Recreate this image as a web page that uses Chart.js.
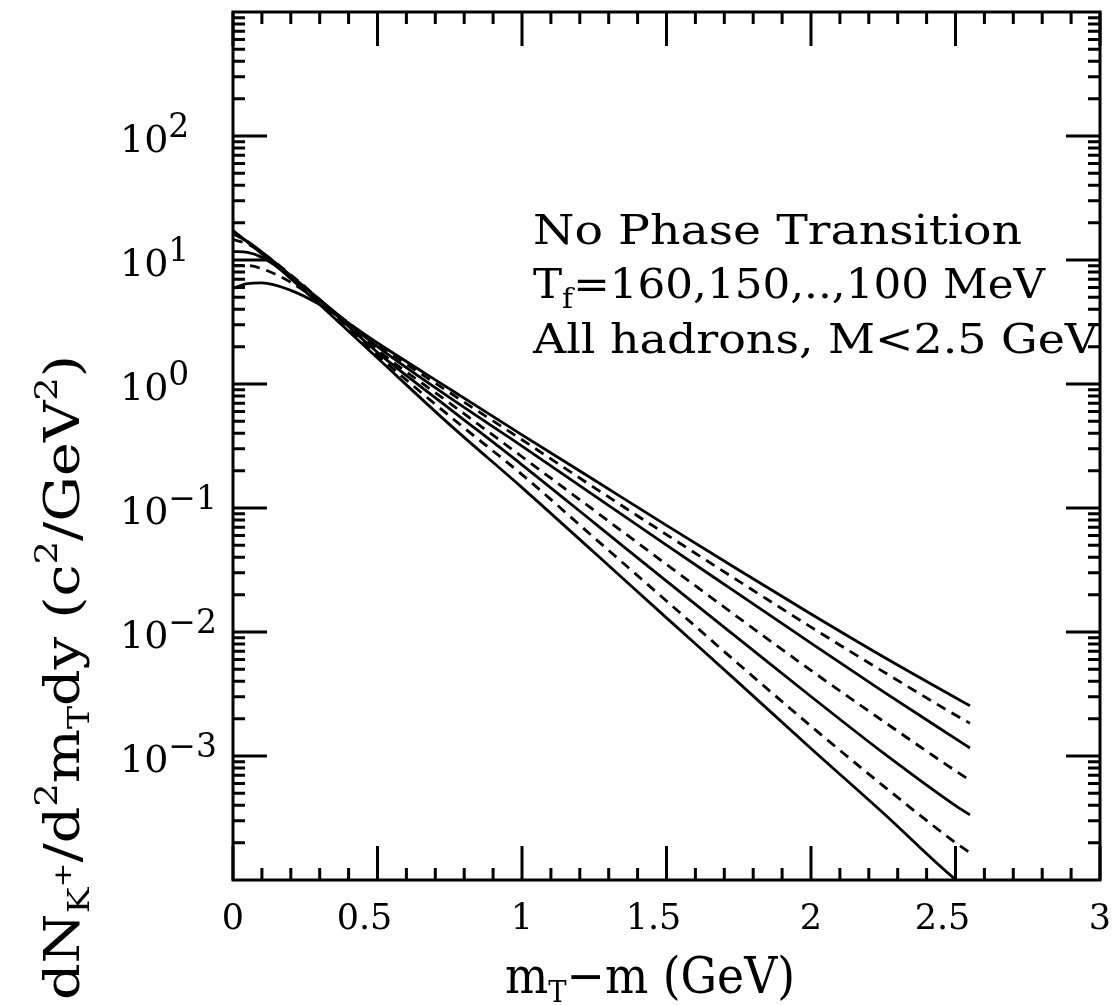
<!DOCTYPE html>
<html>
<head>
<meta charset="utf-8">
<script src="https://cdn.jsdelivr.net/npm/chart.js@4.4.1/dist/chart.umd.min.js"></script>
<style>
  html, body { margin: 0; padding: 0; background: #fff; }
</style>
</head>
<body>
<canvas id="spectra" width="1115" height="1005"></canvas>
<script>
(function () {
  'use strict';

  // ── Data ─────────────────────────────────────────────────────────────────
  // m_T - m (GeV)
  const mtGrid = [0, 0.05, 0.1, 0.2, 0.3, 0.5, 0.75, 1.0, 1.25, 1.5, 1.75, 2.0, 2.25, 2.5, 2.55];

  // dN/d2mT dy for T_f = 160 ... 100 MeV (solid / dashed alternating)
  const tf160 = [17.3, 14.0, 11.2, 7.08, 4.37, 1.62, 0.470, 0.146, 0.0437, 0.0130, 0.00389, 0.00115, 0.000347, 0.000101, 0.0000832];
  const tf150 = [16.9, 14.0, 11.4, 7.33, 4.57, 1.71, 0.550, 0.186, 0.0575, 0.0178, 0.00550, 0.00174, 0.000575, 0.000200, 0.000166];
  const tf140 = [16.3, 14.1, 11.6, 7.50, 4.73, 1.80, 0.631, 0.223, 0.0759, 0.0257, 0.00881, 0.00302, 0.00106, 0.000398, 0.000335];
  const tf130 = [14.6, 13.5, 11.5, 7.59, 4.79, 1.88, 0.700, 0.259, 0.0955, 0.0351, 0.0130, 0.00490, 0.00191, 0.000759, 0.000638];
  const tf120 = [11.7, 11.5, 10.5, 7.41, 4.79, 2.00, 0.776, 0.316, 0.126, 0.0501, 0.0202, 0.00813, 0.00331, 0.00138, 0.00116];
  const tf110 = [9.04, 9.02, 8.51, 6.61, 4.62, 2.09, 0.851, 0.355, 0.146, 0.0610, 0.0257, 0.01096, 0.00479, 0.00214, 0.00184];
  const tf100 = [5.90, 6.46, 6.53, 5.69, 4.37, 2.14, 0.912, 0.389, 0.168, 0.0724, 0.0316, 0.01396, 0.00631, 0.00295, 0.00254];

  const seriesList  = [tf160, tf150, tf140, tf130, tf120, tf110, tf100];
  const seriesNames = ['160', '150', '140', '130', '120', '110', '100'];

  const xTickValues = [0, 0.5, 1, 1.5, 2, 2.5, 3];
  const xTickLabels = ['0', '0.5', '1', '1.5', '2', '2.5', '3'];
  const yTickExps   = [-3, -2, -1, 0, 1, 2];
  const yTickSups   = ['\u22123', '\u22122', '\u22121', '0', '1', '2'];

  // ── Helpers ──────────────────────────────────────────────────────────────
  const SERIF = '"DejaVu Serif", serif';

  function richWidth(ctx, parts) {
    let w = 0;
    for (const [t, size] of parts) {
      ctx.font = size + 'px ' + SERIF;
      w += ctx.measureText(t).width;
    }
    return w;
  }

  // parts: [text, fontSize, baselineOffset]; squeezed/stretched to target width
  function drawRich(ctx, parts, x, y, target) {
    const w = richWidth(ctx, parts);
    const s = target ? target / w : 1;
    ctx.save();
    ctx.translate(x, y);
    ctx.scale(s, 1);
    ctx.textAlign = 'left';
    ctx.textBaseline = 'alphabetic';
    let cx = 0;
    for (const [t, size, dy] of parts) {
      ctx.font = size + 'px ' + SERIF;
      ctx.fillText(t, cx, dy || 0);
      cx += ctx.measureText(t).width;
    }
    ctx.restore();
  }

  // ── Frame, ticks, labels ─────────────────────────────────────────────────
  const framePlugin = {
    id: 'frameTicks',
    afterDatasetsDraw(chart) {
      const { ctx, chartArea: a, scales: { x, y } } = chart;
      ctx.save();
      ctx.strokeStyle = '#000';
      ctx.fillStyle = '#000';
      ctx.lineWidth = 3;
      ctx.lineCap = 'butt';
      ctx.strokeRect(a.left, a.top, a.right - a.left, a.bottom - a.top);

      ctx.beginPath();
      // x ticks every 0.1, longer every 0.5
      for (let i = 0; i <= 30; i++) {
        const px = x.getPixelForValue(i / 10);
        const len = i % 5 === 0 ? 34 : 12;
        ctx.moveTo(px, a.bottom); ctx.lineTo(px, a.bottom - len);
        ctx.moveTo(px, a.top);    ctx.lineTo(px, a.top + len);
      }
      // y ticks: decades long, 2..9 short
      for (let e = -4; e <= 2; e++) {
        for (let m = 1; m <= 9; m++) {
          const v = m * Math.pow(10, e);
          if (v <= y.min || v >= y.max) continue;
          const py = y.getPixelForValue(v);
          const len = m === 1 ? 34 : 12;
          ctx.moveTo(a.left, py);  ctx.lineTo(a.left + len, py);
          ctx.moveTo(a.right, py); ctx.lineTo(a.right - len, py);
        }
      }
      ctx.stroke();

      // x tick labels (decimal ones sit a little left of their tick, as in the original)
      ctx.font = '35px ' + SERIF;
      ctx.textAlign = 'center';
      ctx.textBaseline = 'alphabetic';
      xTickValues.forEach((v, i) => {
        const shift = xTickLabels[i].includes('.') ? -13 : 0;
        ctx.fillText(xTickLabels[i], x.getPixelForValue(v) + shift, a.bottom + 49);
      });

      // y tick labels 10^n
      yTickExps.forEach((e, i) => {
        const py = y.getPixelForValue(Math.pow(10, e));
        drawRich(ctx, [['10', 38, 16], [yTickSups[i], 33, 1]], 120, py, null);
      });

      // axis titles
      drawRich(ctx, [['m', 50, 0], ['T', 30, 9], ['\u2212m (GeV)', 50, 0]], 505, a.bottom + 113, 290);

      ctx.save();
      ctx.translate(79, 1000);
      ctx.rotate(-Math.PI / 2);
      drawRich(ctx, [
        ['dN', 48, 0], ['K', 29, 10], ['+', 25, -8],
        ['/d', 48, 0], ['2', 31, -22], ['m', 48, 0], ['T', 29, 10],
        ['dy (c', 48, 0], ['2', 31, -22], ['/GeV', 48, 0], ['2', 31, -22], [')', 48, 0],
      ], 0, 0, 645);
      ctx.restore();

      // annotation block
      drawRich(ctx, [['No Phase Transition', 41, 0]], 533, 244, 489);
      drawRich(ctx, [['T', 41, 0], ['f', 28, 10], ['=160,150,..,100 MeV', 41, 0]], 533, 298, 512);
      drawRich(ctx, [['All hadrons, M<2.5 GeV', 41, 0]], 533, 353, 565);

      ctx.restore();
    },
  };

  // ── Chart ────────────────────────────────────────────────────────────────
  const datasets = seriesList.map((vals, i) => ({
    label: 'T_f = ' + seriesNames[i] + ' MeV',
    data: vals.map((v, k) => ({ x: mtGrid[k], y: v })),
    borderColor: '#000',
    borderWidth: 2.8,
    borderDash: i % 2 === 1 ? [10, 7] : [],
    pointRadius: 0,
    fill: false,
    cubicInterpolationMode: 'monotone',
  }));

  new Chart(document.getElementById('spectra'), {
    type: 'line',
    data: { datasets },
    options: {
      responsive: false,
      animation: false,
      devicePixelRatio: 1,
      layout: { padding: { left: 233, right: 15, top: 12, bottom: 125 } },
      plugins: { legend: { display: false }, tooltip: { enabled: false } },
      scales: {
        x: { type: 'linear', min: 0, max: 3, display: false },
        y: { type: 'logarithmic', min: 1e-4, max: 1e3, display: false },
      },
    },
    plugins: [framePlugin],
  });
})();
</script>
</body>
</html>
